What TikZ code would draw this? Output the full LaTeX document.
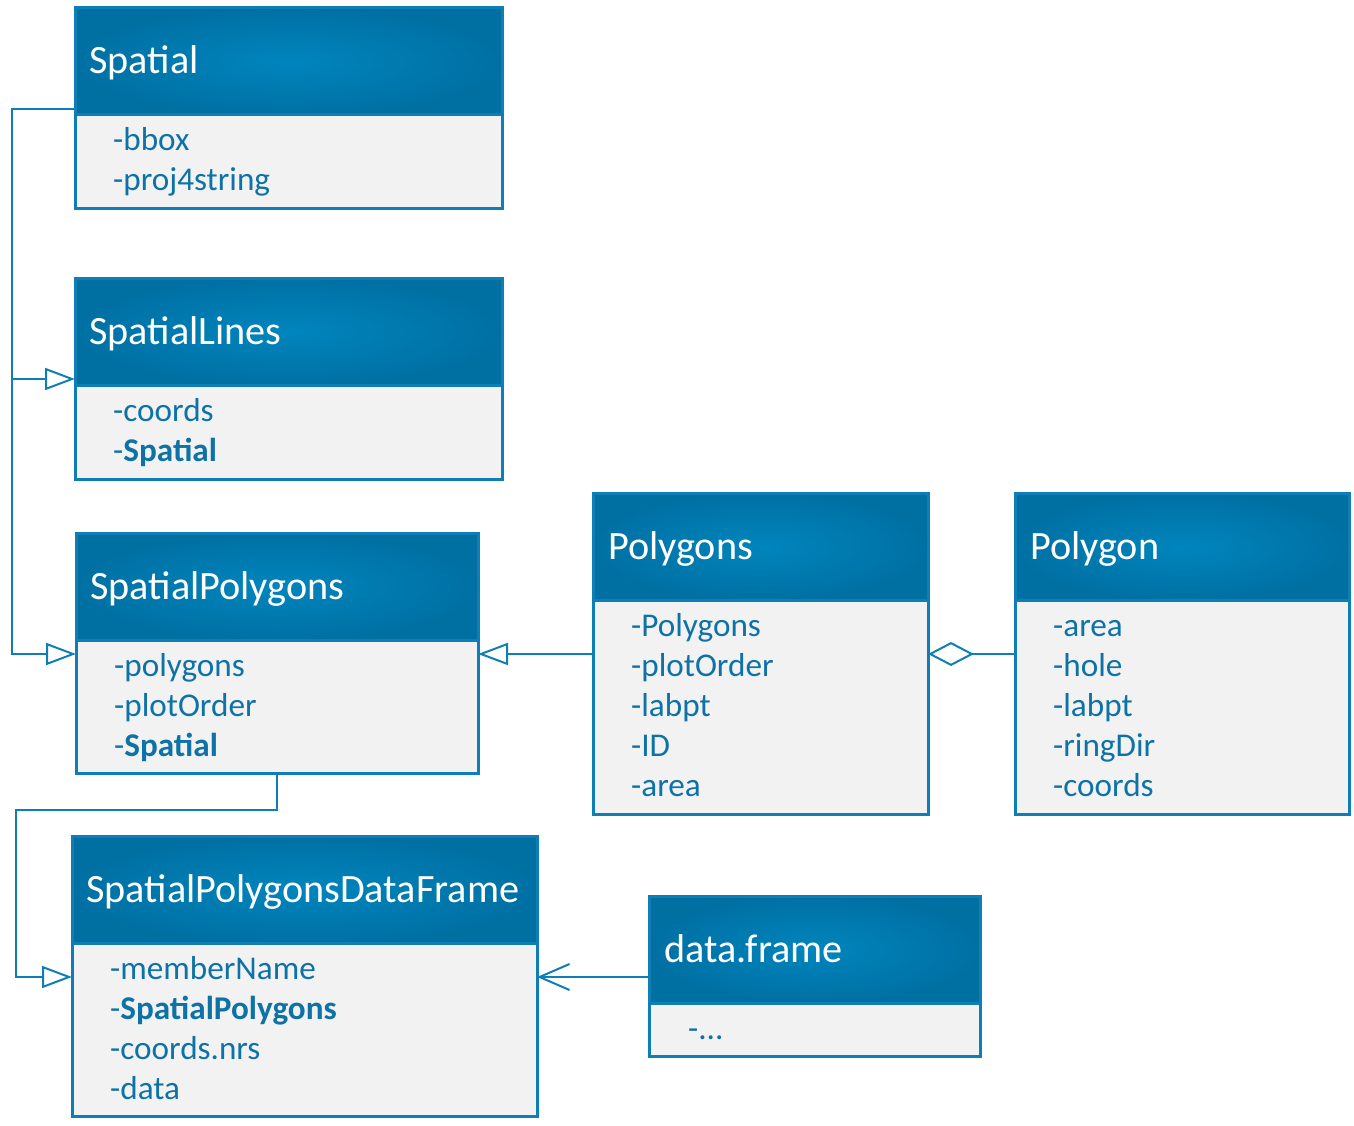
\documentclass[tikz,border=0pt]{standalone}
\usepackage{fontspec}
\setmainfont{Carlito}
\usepackage{tikz}
\usetikzlibrary{arrows.meta}

\definecolor{hdrdark}{RGB}{0,112,163}
\definecolor{hdrlight}{RGB}{0,133,189}
\definecolor{linecol}{RGB}{16,126,182}
\definecolor{attcol}{RGB}{14,114,166}
\definecolor{bodycol}{RGB}{242,242,242}

\tikzset{
  hdr/.style={anchor=north west, draw=linecol, line width=3pt, inner sep=0pt, outer sep=0pt,
              inner color=hdrlight, outer color=hdrdark},
  bdy/.style={anchor=north west, draw=linecol, line width=3pt, inner sep=0pt, outer sep=0pt,
              fill=bodycol},
  ttl/.style={anchor=base west, inner sep=0pt, text=white, font=\fontsize{40.2}{48}\selectfont},
  att/.style={anchor=base west, inner sep=0pt, text=attcol, font=\fontsize{33.2}{40}\selectfont},
  conn/.style={draw=linecol, line width=2pt},
  inherit/.style={conn, -{Triangle[open, fill=white, length=30pt, width=22pt]}},
  aggr/.style={conn, {Diamond[open, fill=white, length=46pt, width=24pt]}-},
  assoc/.style={conn, -{Straight Barb[length=30pt, width=26pt]}}
}

\begin{document}
\begin{tikzpicture}[x=1pt, y=-1pt]
        \useasboundingbox (0,0) rectangle (1354,1126);
        % class boxes
        \node[hdr, minimum width=427, minimum height=107] (spatialH)  at (75,8)     {};   %Spatial
        \node[bdy, minimum width=427, minimum height=94]  (spatialB)  at (spatialH.south west) {};
        \node[hdr, minimum width=427, minimum height=107] (linesH)    at (75,278)   {};   %SpatialLines
        \node[bdy, minimum width=427, minimum height=94]  (linesB)    at (linesH.south west) {};
        \node[hdr, minimum width=402, minimum height=107] (spolysH)   at (76,533)   {};   %SpatialPolygons
        \node[bdy, minimum width=402, minimum height=133] (spolysB)   at (spolysH.south west) {};
        \node[hdr, minimum width=335, minimum height=107] (polygonsH) at (593,493)  {};   %Polygons
        \node[bdy, minimum width=335, minimum height=214] (polygonsB) at (polygonsH.south west) {};
        \node[hdr, minimum width=334, minimum height=107] (polygonH)  at (1015,493) {};   %Polygon
        \node[bdy, minimum width=334, minimum height=214] (polygonB)  at (polygonH.south west) {};
        \node[hdr, minimum width=465, minimum height=107] (spdfH)     at (72,836)   {};   %SpatialPolygonsDataFrame
        \node[bdy, minimum width=465, minimum height=173] (spdfB)     at (spdfH.south west) {};
        \node[hdr, minimum width=331, minimum height=107] (dfH)       at (649,896)  {};   %data.frame
        \node[bdy, minimum width=331, minimum height=53]  (dfB)       at (dfH.south west) {};
        % class names
        \node[ttl] (spatialT)  at ([shift={(14pt,-66pt)}]spatialH.north west)  {Spatial};
        \node[ttl] (linesT)    at ([shift={(14pt,-66pt)}]linesH.north west)    {SpatialLines};
        \node[ttl] (spolysT)   at ([shift={(14pt,-66pt)}]spolysH.north west)   {SpatialPolygons};
        \node[ttl] (polygonsT) at ([shift={(15pt,-66pt)}]polygonsH.north west) {Polygons};
        \node[ttl] (polygonT)  at ([shift={(15pt,-66pt)}]polygonH.north west)  {Polygon};
        \node[ttl] (spdfT)     at ([shift={(14pt,-66pt)}]spdfH.north west)     {SpatialPolygonsDataFrame};
        \node[ttl] (dfT)       at ([shift={(15pt,-66pt)}]dfH.north west)       {data.frame};
        % slots
        \foreach \a [count=\i from 0] in {-bbox, -proj4string}
          \node[att] (spatialA\i) at ([shift={(38pt,{-36pt-40pt*\i})}]spatialB.north west) {\a};
        \foreach \a [count=\i from 0] in {-coords, -\textbf{Spatial}}
          \node[att] (linesA\i) at ([shift={(38pt,{-36pt-40pt*\i})}]linesB.north west) {\a};
        \foreach \a [count=\i from 0] in {-polygons, -plotOrder, -\textbf{Spatial}}
          \node[att] (spolysA\i) at ([shift={(38pt,{-36pt-40pt*\i})}]spolysB.north west) {\a};
        \foreach \a [count=\i from 0] in {-Polygons, -plotOrder, -labpt, -ID, -area}
          \node[att] (polygonsA\i) at ([shift={(38pt,{-36pt-40pt*\i})}]polygonsB.north west) {\a};
        \foreach \a [count=\i from 0] in {-area, -hole, -labpt, -ringDir, -coords}
          \node[att] (polygonA\i) at ([shift={(38pt,{-36pt-40pt*\i})}]polygonB.north west) {\a};
        \foreach \a [count=\i from 0] in {-memberName, -\textbf{SpatialPolygons}, -coords.nrs, -data}
          \node[att] (spdfA\i) at ([shift={(38pt,{-36pt-40pt*\i})}]spdfB.north west) {\a};
        \node[att] (dfA0) at ([shift={(39pt,-36pt)}]dfB.north west) {-...};
        % connectors
        \coordinate (busTop)  at (12,109);                             %
        \coordinate (linesIn) at ([yshift=6pt]linesH.south west);      %
        \coordinate (spolyIn) at ([yshift=-14pt]spolysB.north west);   %
        \coordinate (spolyEx) at ([yshift=-14pt]spolysB.north east);   %
        \coordinate (elbow)   at (16,810);                             %
        \coordinate (spdfIn)  at ([yshift=-34pt]spdfB.north west);     %
        \coordinate (spdfEx)  at ([yshift=-34pt]spdfB.north east);     %
        \draw[inherit] ([yshift=6pt]spatialH.south west) -- (busTop) |- (spolyIn);
        \draw[inherit] (busTop |- linesIn) -- (linesIn);
        \draw[inherit] (polygonsB.west |- spolyEx) -- (spolyEx);
        \draw[aggr]    (polygonsB.east |- spolyEx) -- (polygonB.west |- spolyEx);
        \draw[inherit] (spolysB.south) |- (elbow) |- (spdfIn);
        \draw[assoc]   (dfH.west |- spdfEx) -- (spdfEx);
\end{tikzpicture}
\end{document}
